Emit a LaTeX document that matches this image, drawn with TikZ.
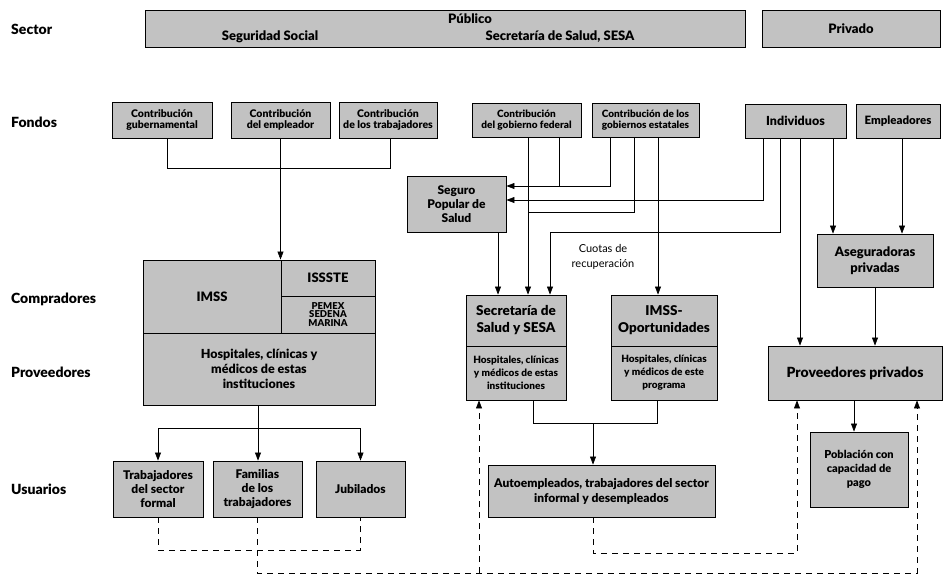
\documentclass[tikz,border=0pt]{standalone}
\usepackage{fontspec}
\setmainfont{Lato}[BoldFont={Lato Black}]
\usetikzlibrary{arrows.meta}
\definecolor{boxgray}{gray}{0.76}
\newcommand{\fs}[1]{\fontsize{#1}{#1}\selectfont}
\tikzset{
  box/.style={draw=black, line width=0.9pt, fill=boxgray, inner sep=0pt, align=center, font=\bfseries\fs{10.5}},
  btxt/.style={inner sep=0pt, align=center, font=\bfseries\fs{13}},
  lbl/.style={anchor=west, inner sep=0pt, font=\bfseries\fs{14}},
  conn/.style={line width=0.6pt},
  arr/.style={conn, -{Triangle[length=8pt,width=6pt]}},
  dsh/.style={conn, dash pattern=on 6pt off 5pt},
}
\begin{document}
\begin{tikzpicture}[x=1pt,y=-1pt]
\path[use as bounding box, fill=white] (0,0) rectangle (950,576);

% left labels
\node[lbl] (lSector) at (11,29) {Sector};
\node[lbl] (lFondos) at (11,122) {Fondos};
\node[lbl] (lComp) at (11,299) {Compradores};
\node[lbl] (lProv) at (11,372) {Proveedores};
\node[lbl] (lUsu) at (11,489) {Usuarios};

% sector
\node[box, minimum width=600pt, minimum height=37pt] (pub) at (445,28.5) {};
\node[btxt] (pubT) at (470,19) {Público};
\node[btxt] (pubSS) at (270,37) {Seguridad Social};
\node[btxt] (pubSESA) at (560,37) {Secretaría de Salud, SESA};
\node[box, minimum width=178pt, minimum height=37pt, font=\bfseries\fs{13}] (priv) at (851,28.5) {Privado};

% fondos
\node[box, minimum width=100pt, minimum height=36pt] (cg) at (162,120) {Contribución\\[1pt]gubernamental};
\node[box, minimum width=99pt, minimum height=36pt] (ce) at (280.5,120) {Contribución\\[1pt]del empleador};
\node[box, minimum width=98pt, minimum height=36pt] (ct) at (388,120) {Contribución\\[1pt]de los trabajadores};
\node[box, minimum width=109pt, minimum height=34pt, font=\bfseries\fs{10}] (cf) at (526.5,120) {Contribución\\[1pt]del gobierno federal};
\node[box, minimum width=107pt, minimum height=34pt, font=\bfseries\fs{10}] (cs) at (645.5,120) {Contribución de los\\[1pt]gobiernos estatales};
\node[box, minimum width=101pt, minimum height=34pt, font=\bfseries\fs{12.5}] (ind) at (795.5,121) {Individuos};
\node[box, minimum width=84pt, minimum height=34pt, font=\bfseries\fs{11.5}] (emp) at (898,121) {Empleadores};

% left block
\node[box, minimum width=138pt, minimum height=73pt, font=\bfseries\fs{13}] (imss) at (212,296.5) {IMSS};
\node[box, minimum width=94pt, minimum height=36pt, font=\bfseries\fs{13}] (issste) at (328,278) {ISSSTE};
\node[box, minimum width=94pt, minimum height=37pt, font=\bfseries\fontsize{9.5}{8.5}\selectfont] (pemex) at (328,314.5) {PEMEX\\SEDENA\\MARINA};
\node[box, minimum width=232pt, minimum height=72pt, font=\bfseries\fontsize{12.5}{15}\selectfont] (hosp) at (259,369) {Hospitales, clínicas y\\médicos de estas\\instituciones};

% users
\node[box, minimum width=90pt, minimum height=56pt, font=\bfseries\fontsize{12}{14}\selectfont] (trab) at (158,489) {Trabajadores\\del sector\\formal};
\node[box, minimum width=89pt, minimum height=56pt, font=\bfseries\fontsize{12}{14}\selectfont] (fam) at (257.5,489) {Familias\\de los\\trabajadores};
\node[box, minimum width=89pt, minimum height=56pt, font=\bfseries\fontsize{12}{14}\selectfont] (jub) at (360.5,489) {Jubilados};

% middle
\node[box, minimum width=99pt, minimum height=56pt, font=\bfseries\fontsize{12}{14}\selectfont] (seg) at (456.5,204) {Seguro\\Popular de\\Salud};
\node[box, minimum width=100pt, minimum height=51pt, font=\bfseries\fontsize{13.5}{17}\selectfont] (secr) at (516,320.5) {Secretaría de\\Salud y SESA};
\node[box, minimum width=100pt, minimum height=54pt, font=\bfseries\fontsize{10}{13}\selectfont] (secrh) at (516,373) {Hospitales, clínicas\\y médicos de estas\\instituciones};
\node[box, minimum width=106pt, minimum height=51pt, font=\bfseries\fontsize{13.5}{17}\selectfont] (imsso) at (664,320.5) {IMSS-\\Oportunidades};
\node[box, minimum width=106pt, minimum height=54pt, font=\bfseries\fontsize{10}{13}\selectfont] (imssoh) at (664,373) {Hospitales, clínicas\\y médicos de este\\programa};
\node[box, minimum width=227pt, minimum height=52pt, font=\bfseries\fontsize{12}{15}\selectfont] (auto) at (601.5,491) {Autoempleados, trabajadores del sector\\informal y desempleados};
\node[inner sep=0pt, align=center, font=\fontsize{11}{15}\selectfont] (cuotas) at (603,257) {Cuotas de\\recuperación};

% right
\node[box, minimum width=116pt, minimum height=53pt, font=\bfseries\fontsize{13}{16}\selectfont] (aseg) at (875,260.5) {Aseguradoras\\privadas};
\node[box, minimum width=174pt, minimum height=54pt, font=\bfseries\fs{14}] (provp) at (855,373) {Proveedores privados};
\node[box, minimum width=98pt, minimum height=75pt, font=\bfseries\fontsize{11}{14}\selectfont] (pob) at (859,469.5) {Población con\\capacidad de\\pago};

% junction coordinates
\coordinate (jN) at (167,168);
\coordinate (jO) at (390,168);
\coordinate (jA) at (559,186);
\coordinate (jB) at (610,186);
\coordinate (jC) at (763,200);
\coordinate (jD) at (634,212);
\coordinate (jE) at (528,212);
\coordinate (jF) at (780,232);
\coordinate (jG) at (550,232);
\coordinate (jH) at (498,0);
\coordinate (jI) at (658,0);
\coordinate (jJ) at (800,0);
\coordinate (jK) at (833,0);
\coordinate (jL) at (902,0);
\coordinate (jM) at (854,0);
\coordinate (jP) at (258,428);
\coordinate (jQ) at (533,423);
\coordinate (jR) at (657,423);
\coordinate (jS) at (593,423);
\coordinate (jT) at (158,550);
\coordinate (jU) at (257,573);
\coordinate (jV) at (917,573);
\coordinate (jW) at (479,573);
\coordinate (jX) at (593,553);
\coordinate (jY) at (797,553);

% left funds bracket
\draw[conn] (cg.south -| jN) -- (jN) -- (jO) -- (ct.south -| jO);
\draw[arr] (ce.south) -- (imss.north -| ce.south);

% middle funds
\draw[conn] (cf.south -| jA) -- (jA);
\draw[arr] (cs.south -| jB) -- (jB) -- (seg.east |- jB);
\draw[arr] (ind.south -| jC) -- (jC) -- (seg.east |- jC);
\draw[conn] (cs.south -| jD) -- (jD) -- (jE);
\draw[arr] (cf.south -| jE) -- (secr.north -| jE);
\draw[arr] (ind.south -| jF) -- (jF) -- (jG) -- (secr.north -| jG);
\draw[arr] (seg.south -| jH) -- (secr.north -| jH);
\draw[arr] (cs.south -| jI) -- (imsso.north -| jI);

% private
\draw[arr] (ind.south -| jJ) -- (provp.north -| jJ);
\draw[arr] (ind.south -| jK) -- (aseg.north -| jK);
\draw[arr] (emp.south -| jL) -- (aseg.north -| jL);
\draw[arr] (aseg.south) -- (provp.north -| aseg.south);
\draw[arr] (provp.south -| jM) -- (pob.north -| jM);

% hospitals to users
\draw[conn] (hosp.south -| jP) -- (jP);
\draw[conn] (trab.north |- jP) -- (jub.north |- jP);
\draw[arr] (trab.north |- jP) -- (trab.north);
\draw[arr] (jP) -- (fam.north -| jP);
\draw[arr] (jub.north |- jP) -- (jub.north);

% middle to auto
\draw[conn] (secrh.south -| jQ) -- (jQ) -- (jR) -- (imssoh.south -| jR);
\draw[arr] (jS) -- (auto.north -| jS);

% dashed
\draw[dsh] (trab.south) -- (trab.south |- jT) -- (jub.south |- jT) -- (jub.south);
\draw[dsh, -{Triangle[length=8pt,width=6pt]}] (fam.south -| jU) -- (jU) -- (jV) -- (provp.south -| jV);
\draw[dsh, -{Triangle[length=8pt,width=6pt]}] (jW) -- (secrh.south -| jW);
\draw[dsh, -{Triangle[length=8pt,width=6pt]}] (auto.south -| jX) -- (jX) -- (jY) -- (provp.south -| jY);
\end{tikzpicture}
\end{document}
